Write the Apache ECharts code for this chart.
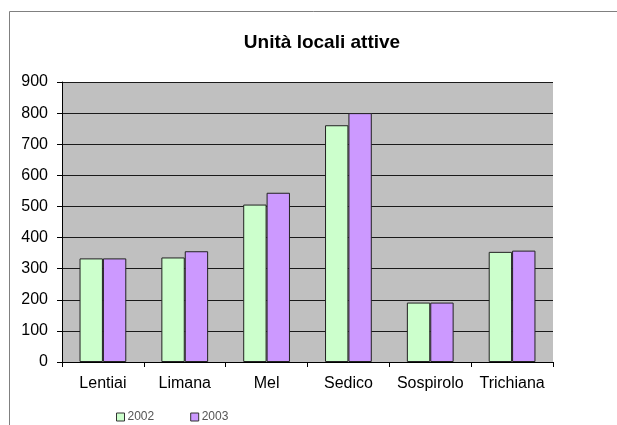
<!DOCTYPE html>
<html>
<head>
<meta charset="utf-8">
<script src="https://cdn.jsdelivr.net/npm/echarts@6/dist/echarts.min.js"></script>
<style>
  html, body { margin: 0; padding: 0; background: #fff; }
  #chart { width: 617px; height: 425px; }
</style>
</head>
<body>
<div id="chart"></div>
<script>
// Active local units per municipality, 2002 vs 2003
var categories = ['Lentiai', 'Limana', 'Mel', 'Sedico', 'Sospirolo', 'Trichiana'];
var seriesNames = ['2002', '2003'];
var values2002 = [333, 336, 506, 761, 191, 354];
var values2003 = [333, 356, 544, 800, 191, 358];
var yTicks = [0, 100, 200, 300, 400, 500, 600, 700, 800, 900];

var chart = echarts.init(document.getElementById('chart'), null, { renderer: 'canvas' });

var font = 'Liberation Sans, Arial, sans-serif';

chart.setOption({
  animation: false,
  backgroundColor: '#ffffff',
  title: {
    text: 'Unità locali attive',
    left: 317,
    textAlign: 'center',
    top: 28,
    textStyle: { fontFamily: font, fontSize: 19, fontWeight: 'bold', color: '#000' }
  },
  graphic: [{
    type: 'rect',
    shape: { x: 9.5, y: 11.5, width: 700, height: 500 },
    style: { fill: 'none', stroke: '#808080', lineWidth: 1 },
    silent: true,
    z: -1
  }],
  legend: {
    data: seriesNames,
    left: 111,
    top: 406,
    itemWidth: 8,
    itemHeight: 8,
    itemGap: 36,
    icon: 'rect',
    textStyle: { fontFamily: font, fontSize: 12, color: '#555', padding: [0, 0, 0, -2] },
    itemStyle: { borderColor: '#333', borderWidth: 1 }
  },
  grid: {
    left: 62,
    right: 64,
    top: 82,
    bottom: 63,
    show: true,
    backgroundColor: '#c0c0c0',
    borderWidth: 0
  },
  xAxis: {
    type: 'category',
    data: categories,
    axisLine: { show: true, lineStyle: { color: '#000', width: 1 } },
    axisTick: { show: true, length: 5, alignWithLabel: false, interval: 0, lineStyle: { color: '#000' } },
    axisLabel: { interval: 0, hideOverlap: false, fontFamily: font, fontSize: 16, color: '#000', margin: 14 }
  },
  yAxis: {
    type: 'value',
    min: yTicks[0],
    max: yTicks[yTicks.length - 1],
    interval: 100,
    axisLine: { show: true, lineStyle: { color: '#000', width: 1 } },
    axisTick: { show: true, length: 5, lineStyle: { color: '#000' } },
    axisLabel: { fontFamily: font, fontSize: 16, color: '#000', margin: 14 },
    splitLine: { show: true, lineStyle: { color: '#1a1a1a', width: 1 } }
  },
  series: [
    {
      name: seriesNames[0],
      type: 'bar',
      data: values2002,
      barGap: '0%',
      barCategoryGap: '42.86%',
      itemStyle: { color: '#ccffcc', borderColor: '#222', borderWidth: 1 }
    },
    {
      name: seriesNames[1],
      type: 'bar',
      data: values2003,
      barGap: '0%',
      barCategoryGap: '42.86%',
      itemStyle: { color: '#cc99ff', borderColor: '#222', borderWidth: 1 }
    }
  ]
});
</script>
</body>
</html>
